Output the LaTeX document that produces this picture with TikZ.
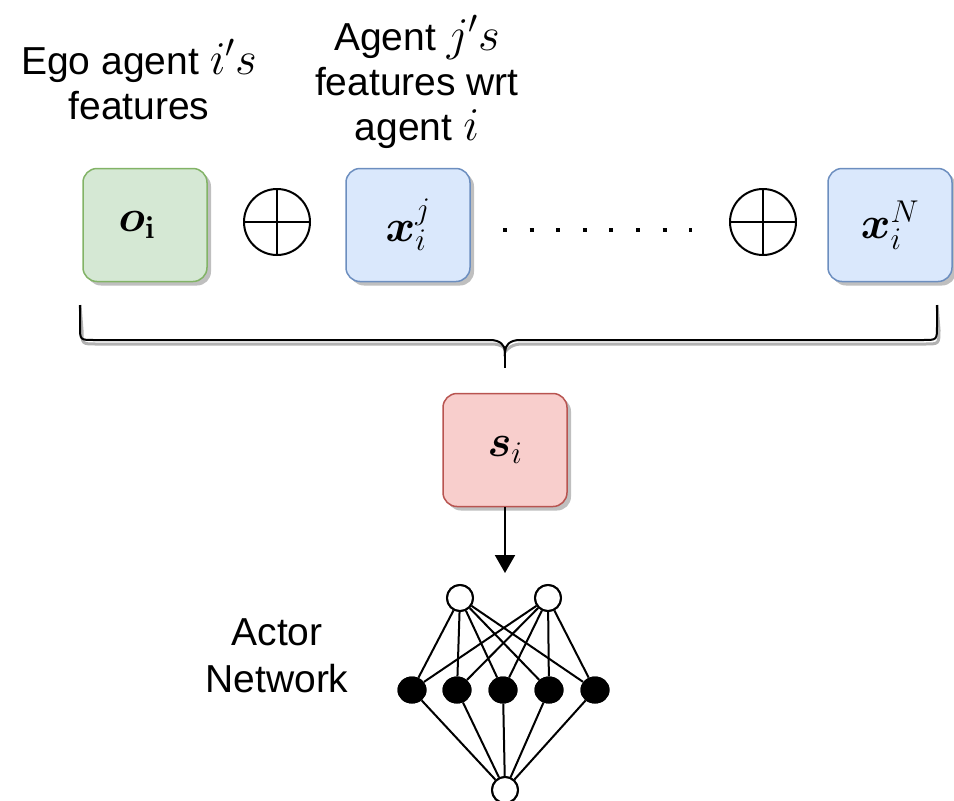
\RequirePackage{fix-cm}
\documentclass[tikz,border=0pt]{standalone}
\usepackage{amsmath,bm}
\usepackage[no-math]{fontspec}
\setmainfont{Liberation Sans}
\usetikzlibrary{shadows,arrows.meta,shapes.geometric}

\definecolor{egofill}{HTML}{D5E8D4}\definecolor{egoline}{HTML}{82B366}
\definecolor{nbrfill}{HTML}{DAE8FC}\definecolor{nbrline}{HTML}{6C8EBF}
\definecolor{stfill}{HTML}{F8CECC}\definecolor{stline}{HTML}{B85450}

% inline math in captions is set a little larger than the text
\newcommand{\capmath}[1]{{\fontsize{47}{47}\selectfont$#1$}}

\tikzset{
  featbox/.style={rounded corners=14pt, minimum width=124pt, minimum height=113pt,
    line width=1.5pt, inner sep=0pt,
    drop shadow={shadow xshift=4pt, shadow yshift=-4pt, fill=black, opacity=0.25},
    font=\fontsize{45}{50}\selectfont},
  egobox/.style={featbox, fill=egofill, draw=egoline},
  nbrbox/.style={featbox, fill=nbrfill, draw=nbrline},
  statebox/.style={featbox, fill=stfill, draw=stline},
  caption/.style={align=center, font=\fontsize{39}{45}\selectfont, inner sep=0pt},
  concat/.style={circle, draw, line width=2pt, minimum size=66pt, inner sep=0pt,
    path picture={\draw[line width=2pt] (path picture bounding box.north) -- (path picture bounding box.south)
      (path picture bounding box.west) -- (path picture bounding box.east);}},
  openunit/.style={circle, draw, line width=2pt, fill=white, minimum size=26pt, inner sep=0pt},
  hidunit/.style={ellipse, fill=black, minimum width=29pt, minimum height=27pt, inner sep=0pt},
  edge/.style={line width=2pt},
}

\begin{document}
\begin{tikzpicture}[x=1pt, y=-1pt]
\useasboundingbox (0,0) rectangle (954,801);

% captions
\node[caption] (egocap) at (139,80) {Ego agent \capmath{i's}\\features};
\node[caption] (nbrcap) at (417,82) {Agent \capmath{j's}\\features wrt\\agent \capmath{i}};

% feature row
\node[egobox] (obs) at (145,225) {\raisebox{-3pt}{$\bm{o}_{\mathbf{i}}$}\hspace*{16pt}};
\node[concat] (plusA) at (277,222) {};
\node[nbrbox] (xj) at (408,225) {$\bm{x}_i^j$};
\coordinate (dotsL) at (503,230);
\coordinate (dotsR) at (692,230);
\draw[line width=4pt, dash pattern=on 4pt off 22.6pt] (dotsL) -- (dotsR);
\node[concat] (plusB) at (763,222) {};
\node[nbrbox] (xN) at (890,225) {$\bm{x}_i^N$};

% curly brace under the row
\coordinate (brL) at (80,305);
\coordinate (brR) at (937,305);
\coordinate (brM) at (505,352);
\coordinate (brTip) at (505,368);
\begin{scope}[shift={(2,4)}, opacity=0.3]
  \draw[line width=3pt] (brL) -- (80,326) .. controls (80,340) .. (94,340) -- (490,340)
    .. controls (500,340) and (505,345) .. (brM)
    .. controls (505,345) and (510,340) .. (520,340) -- (923,340)
    .. controls (937,340) .. (937,326) -- (brR);
\end{scope}
\draw[edge] (brL) -- (80,326) .. controls (80,340) .. (94,340) -- (490,340)
  .. controls (500,340) and (505,345) .. (brM)
  .. controls (505,345) and (510,340) .. (520,340) -- (923,340)
  .. controls (937,340) .. (937,326) -- (brR);
\draw[edge] (brM) -- (brTip);

% state and actor network
\node[statebox] (state) at (505,450) {$\bm{s}_i$};
\coordinate (netin) at (505,573);
\draw[edge, -{Triangle[width=20pt,length=18pt]}] (state) -- (netin);

\node[openunit] (in1) at (460,598) {};
\node[openunit] (in2) at (548,598) {};
\foreach \k/\x in {1/412,2/457,3/503,4/549,5/595}
  \node[hidunit] (h\k) at (\x,690) {};
\node[openunit] (out) at (505,790) {};
\foreach \k in {1,...,5} {
  \draw[edge] (in1) -- (h\k);
  \draw[edge] (in2) -- (h\k);
  \draw[edge] (h\k) -- (out);
}
% redraw units above their edges
\node[openunit] at (in1) {};
\node[openunit] at (in2) {};
\node[openunit] at (out) {};
\foreach \k/\x in {1/412,2/457,3/503,4/549,5/595}
  \node[hidunit] at (\x,690) {};

\node[caption, align=center] (netcap) at (277,656) {Actor\\[2pt]Network};
\end{tikzpicture}
\end{document}
